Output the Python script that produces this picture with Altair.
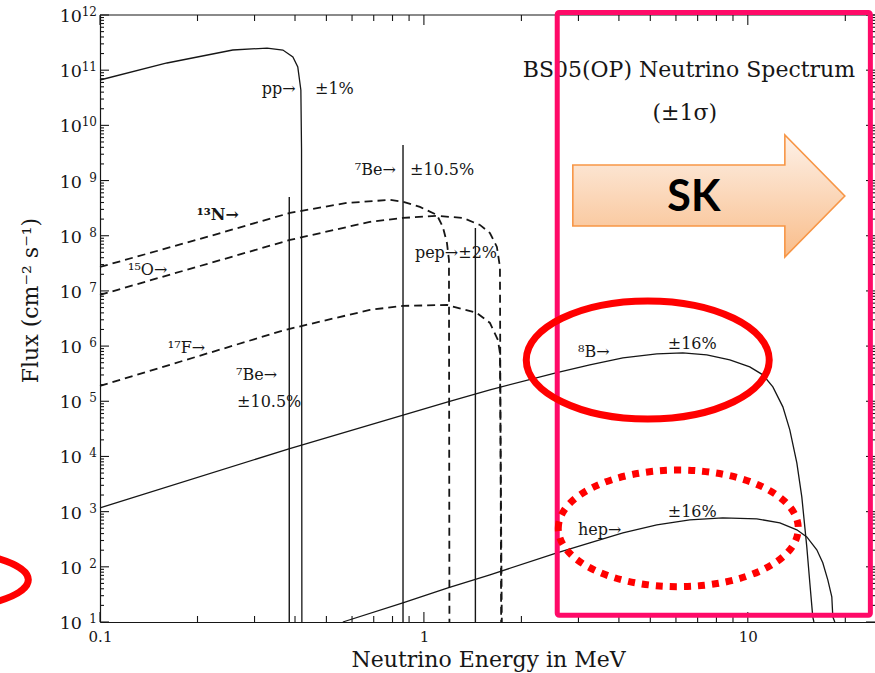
import altair as alt
import pandas as pd

# ---------------------------------------------------------------
# BS05(OP) solar neutrino spectrum, log-log
# ---------------------------------------------------------------
W, H = 775, 607
E_DOMAIN = [0.1, 24.7]          # MeV
F_DOMAIN = [1e1, 1e12]          # cm^-2 s^-1
INK = "#161616"
SERIF = "DejaVu Serif"
RED = "#FF0000"
PINK = "#FF0A68"

# continuum sources: energy (MeV) and flux
pp_E = [0.1, 0.161, 0.257, 0.328, 0.367, 0.394, 0.408, 0.417, 0.419, 0.420]
pp_F = [6.64e10, 1.35e11, 2.32e11, 2.52e11, 2.32e11, 1.73e11, 1.14e11, 4.38e10, 3.58e9, 1e1]

n13_E = [0.1, 0.2035, 0.386, 0.578, 0.785, 0.861, 0.972, 1.097, 1.144, 1.178, 1.195, 1.199]
n13_F = [2.72e7, 8.75e7, 2.59e8, 3.93e8, 4.46e8, 4.15e8, 3.33e8, 2.38e8, 1.44e8, 7.41e7, 3.65e7, 1e1]

o15_E = [0.1, 0.386, 0.681, 0.861, 1.097, 1.319, 1.489, 1.599, 1.680, 1.717, 1.732]
o15_F = [8.47e6, 8.39e7, 1.78e8, 2.10e8, 2.29e8, 2.10e8, 1.57e8, 1.12e8, 6.27e7, 2.72e7, 1e1]

f17_E = [0.1, 0.3725, 0.681, 0.861, 1.178, 1.457, 1.599, 1.692, 1.717, 1.740]
f17_F = [1.90e5, 1.96e6, 4.53e6, 5.35e6, 5.57e6, 3.99e6, 2.63e6, 1.29e6, 7.53e5, 1e1]

b8_E = [0.1, 0.383, 1.186, 1.599, 2.574, 3.253, 4.115, 5.238, 6.30, 7.47, 8.80, 10.14, 11.13,
        11.95, 12.83, 13.48, 14.17, 14.68, 15.21, 15.54, 15.87, 16.0]
b8_F = [1172, 1.37e4, 9.75e4, 1.61e5, 3.31e5, 4.56e5, 6.11e5, 7.22e5, 7.54e5, 6.93e5, 5.62e5,
        4.20e5, 3.01e5, 1.82e5, 7.92e4, 3.03e4, 7.66e3, 1.85e3, 230, 51.3, 12.4, 1e1]

hep_E = [0.562, 0.861, 1.186, 1.599, 2.574, 3.253, 4.115, 5.238, 6.62, 8.37, 10.66, 12.56, 14.17,
         15.21, 16.33, 17.04, 17.66, 18.17, 18.30, 18.56]
hep_F = [1e1, 22.3, 41.7, 71.6, 179, 272, 413, 577, 710, 772, 741, 627, 468, 349, 203, 118, 58.1,
         28.6, 12.4, 1e1]

# monoenergetic lines: 7Be (0.384, 0.862) and pep
line_E = [0.384, 0.862, 1.442]
line_F = [5.05e8, 4.42e9, 1.38e8]

# source labels (left edge energy, flux at text centre)
lab_text = ["pp\u2192", "\u00b11%", "\u2077Be\u2192", "\u00b110.5%", "\u00b9\u2075O\u2192",
            "pep\u2192\u00b12%", "\u00b9\u2077F\u2192", "\u2077Be\u2192", "\u00b110.5%",
            "\u2078B\u2192", "\u00b116%", "hep\u2192", "\u00b116%"]
lab_E = [0.316, 0.461, 0.612, 0.906, 0.122, 0.938, 0.162, 0.263, 0.265, 2.99, 5.66, 2.99, 5.66]
lab_F = [4.6e10, 4.6e10, 1.56e9, 1.56e9, 2.4e7, 4.9e7, 9.3e5, 3.0e5, 9.8e4, 7.9e5, 1.1e6, 470, 990]

bold_text = ["\u00b9\u00b3N\u2192"]
bold_E = [0.199]
bold_F = [2.4e8]

title_text = ["BS05(OP) Neutrino Spectrum", "(\u00b11\u03c3)"]
title_E = [6.58, 6.39]
title_F = [1.0e11, 1.68e10]

# axis labelling
x_label_values = [0.1, 1, 10]
y_exponents = list(range(1, 13))

# Super-K window overlays
sk_box_E = [2.58, 23.9]
sk_box_F = [13.2, 1.11e12]
b8_ring_E, b8_ring_F = [4.91], [5.6e5]
hep_ring_E, hep_ring_F = [6.10], [498]
side_ring_E, side_ring_F = [0.0256], [58]
arrow_E, arrow_F = [7.58], [5.26e8]

# ---------------------------------------------------------------
xs = alt.Scale(type="log", domain=E_DOMAIN)
ys = alt.Scale(type="log", domain=F_DOMAIN)

x_axis = alt.Axis(values=x_label_values, format="~g", ticks=False, tickSize=0, grid=False,
                  domainColor=INK, domainWidth=1.2, labelFont=SERIF, labelFontSize=15,
                  labelColor=INK, labelPadding=7, labelFlush=False, labelOverlap=False,
                  title="Neutrino Energy in MeV", titleFont=SERIF, titleFontSize=22,
                  titleFontWeight="normal", titleColor=INK, titleX=388, titleY=37,
                  titleAlign="center", titleBaseline="middle")
y_axis = alt.Axis(labels=False, ticks=False, tickSize=0, grid=False, domainColor=INK,
                  domainWidth=1.2, title="Flux (cm\u207b\u00b2 s\u207b\u00b9)", titleFont=SERIF,
                  titleFontSize=22, titleFontWeight="normal", titleColor=INK, titleAngle=270,
                  titleX=-70, titleY=285, titleAlign="center", titleBaseline="middle")


def X(field):
    return alt.X(f"{field}:Q", scale=xs, axis=x_axis)


def Y(field):
    return alt.Y(f"{field}:Q", scale=ys, axis=y_axis)


def curve(E, F, dashed):
    df = pd.DataFrame({"E": E, "F": F, "i": list(range(len(E)))})
    style = dict(color=INK, strokeWidth=1.3)
    if dashed:
        style = dict(color=INK, strokeWidth=1.8, strokeDash=[8, 5])
    return alt.Chart(df).mark_line(**style).encode(x=X("E"), y=Y("F"), order="i:Q")


layers = []
for E, F in [(pp_E, pp_F), (b8_E, b8_F), (hep_E, hep_F)]:
    layers.append(curve(E, F, False))
for E, F in [(n13_E, n13_F), (o15_E, o15_F), (f17_E, f17_F)]:
    layers.append(curve(E, F, True))

lines_df = pd.DataFrame({"E": line_E, "F": line_F, "F0": [F_DOMAIN[0]] * len(line_E)})
layers.append(alt.Chart(lines_df).mark_rule(color=INK, strokeWidth=1.4).encode(
    x=X("E"), y=Y("F"), y2="F0:Q"))

# inward ticks on all four sides
x_major = [0.1, 1, 10]
x_minor = [k * d for d in (0.1, 1) for k in range(2, 10)] + [20]
y_major = [10.0 ** p for p in range(1, 13)]
y_minor = [k * 10.0 ** p for p in range(1, 12) for k in range(2, 10)]


def xticks(values, length):
    df = pd.DataFrame({"v": values})
    base = alt.Chart(df).mark_rule(color=INK, strokeWidth=1.1)
    return [base.encode(x=X("v"), y=alt.value(H - length), y2=alt.value(H)),
            base.encode(x=X("v"), y=alt.value(0), y2=alt.value(length))]


def yticks(values, length):
    df = pd.DataFrame({"v": values})
    base = alt.Chart(df).mark_rule(color=INK, strokeWidth=1.1)
    return [base.encode(y=Y("v"), x=alt.value(0), x2=alt.value(length)),
            base.encode(y=Y("v"), x=alt.value(W - length), x2=alt.value(W))]


layers += xticks(x_major, 10) + xticks(x_minor, 6) + yticks(y_major, 9) + yticks(y_minor, 4)

# top frame line
layers.append(alt.Chart(pd.DataFrame({"v": [0]})).mark_rule(color=INK, strokeWidth=1.2).encode(
    x=alt.value(0), x2=alt.value(W), y=alt.value(0)))

# y tick labels as 10 with a raised exponent
ylab = pd.DataFrame({"F": [10.0 ** p for p in y_exponents], "exp": [str(p) for p in y_exponents]})
layers.append(alt.Chart(ylab).mark_text(align="right", baseline="alphabetic", dy=7, font=SERIF,
                                        fontSize=17.5, color=INK, text="10").encode(
    y=Y("F"), x=alt.value(-18)))
layers.append(alt.Chart(ylab).mark_text(align="right", baseline="alphabetic", dy=1, font=SERIF,
                                        fontSize=12, color=INK).encode(
    y=Y("F"), x=alt.value(-3), text="exp:N"))

# source labels
lab_df = pd.DataFrame({"E": lab_E, "F": lab_F, "t": lab_text})
layers.append(alt.Chart(lab_df).mark_text(align="left", baseline="middle", font=SERIF,
                                          fontSize=16, color=INK).encode(
    x=X("E"), y=Y("F"), text="t:N"))
bold_df = pd.DataFrame({"E": bold_E, "F": bold_F, "t": bold_text})
layers.append(alt.Chart(bold_df).mark_text(align="left", baseline="middle", font=SERIF,
                                           fontSize=16, fontWeight="bold", color=INK).encode(
    x=X("E"), y=Y("F"), text="t:N"))
title_df = pd.DataFrame({"E": title_E, "F": title_F, "t": title_text})
layers.append(alt.Chart(title_df).mark_text(align="center", baseline="middle", font=SERIF,
                                            fontSize=22, color=INK).encode(
    x=X("E"), y=Y("F"), text="t:N"))

# Super-K window box
box_df = pd.DataFrame({"E0": [sk_box_E[0]], "E1": [sk_box_E[1]], "F0": [sk_box_F[0]], "F1": [sk_box_F[1]]})
layers.append(alt.Chart(box_df).mark_rect(fill="transparent", stroke=PINK, strokeWidth=5,
                                          cornerRadius=2).encode(
    x=X("E0"), x2="E1:Q", y=Y("F0"), y2="F1:Q"))

# rings around 8B and hep
ELLIPSE = "M -1 0 A 1 0.486 0 1 1 1 0 A 1 0.486 0 1 1 -1 0 Z"
FLAT_ELLIPSE = "M -1 0 A 1 0.267 0 1 1 1 0 A 1 0.267 0 1 1 -1 0 Z"
ring_b8 = pd.DataFrame({"E": b8_ring_E, "F": b8_ring_F})
layers.append(alt.Chart(ring_b8).mark_point(shape=ELLIPSE, size=243 ** 2, filled=False, stroke=RED,
                                            strokeWidth=7, opacity=1).encode(x=X("E"), y=Y("F")))
ring_hep = pd.DataFrame({"E": hep_ring_E, "F": hep_ring_F})
layers.append(alt.Chart(ring_hep).mark_point(shape=ELLIPSE, size=240 ** 2, filled=False, stroke=RED,
                                             strokeWidth=7, strokeDash=[7, 7], opacity=1).encode(
    x=X("E"), y=Y("F")))
ring_side = pd.DataFrame({"E": side_ring_E, "F": side_ring_F})
layers.append(alt.Chart(ring_side).mark_point(shape=FLAT_ELLIPSE, size=240 ** 2, filled=False,
                                              stroke=RED, strokeWidth=7, opacity=1).encode(
    x=X("E"), y=Y("F")))

# SK arrow
ARROW = "M -1 -0.228 L 0.559 -0.228 L 0.559 -0.449 L 1 0 L 0.559 0.449 L 0.559 0.221 L -1 0.221 Z"
peach = alt.LinearGradient(gradient="linear",
                           stops=[alt.GradientStop(offset=0, color="#FDF1E8"),
                                  alt.GradientStop(offset=1, color="#F9BD8A")],
                           x1=0, x2=0, y1=0, y2=1)
arrow_df = pd.DataFrame({"E": arrow_E, "F": arrow_F})
layers.append(alt.Chart(arrow_df).mark_point(shape=ARROW, size=272 ** 2, filled=True, fill=peach,
                                             stroke="#F79646", strokeWidth=1.6, opacity=1).encode(
    x=X("E"), y=Y("F")))
layers.append(alt.Chart(arrow_df).mark_text(text="SK", font="Lato", fontWeight="bold", fontSize=43,
                                            color="#000000", align="center", baseline="middle",
                                            dx=-15, dy=2).encode(x=X("E"), y=Y("F")))

chart = alt.layer(*layers).properties(
    width=W, height=H,
    autosize=alt.AutoSizeParams(type="none"),
    padding={"left": 100, "top": 15, "right": 0, "bottom": 51},
    background="white",
).configure_view(stroke=None)

chart.save("out.html", embed_options={"renderer": "svg", "actions": False})
